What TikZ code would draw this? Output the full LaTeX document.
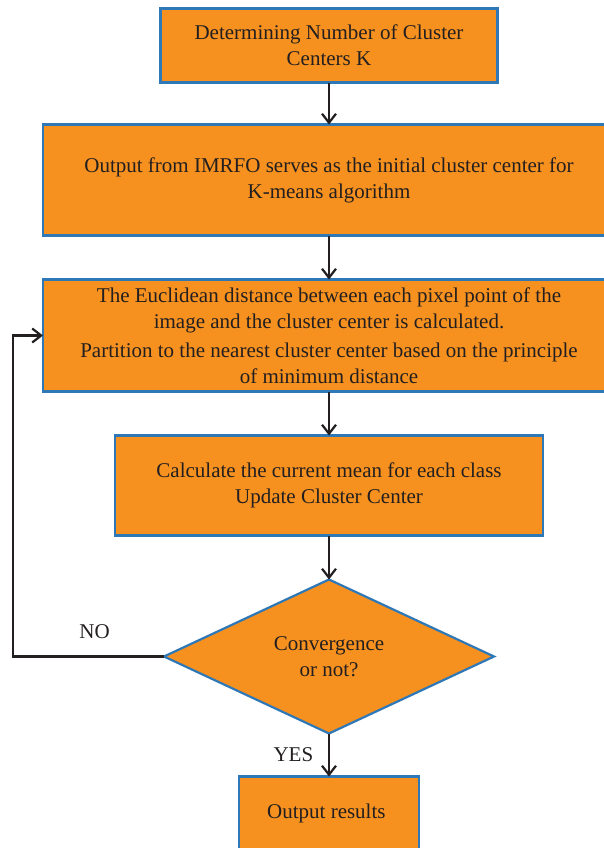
\documentclass[tikz,border=0pt]{standalone}
\usepackage{fontspec}
\setmainfont{Liberation Serif}
\usetikzlibrary{arrows.meta, positioning, shapes.geometric}

\definecolor{boxfill}{HTML}{F6911F}
\definecolor{boxedge}{HTML}{2E78B8}
\definecolor{inkline}{HTML}{231F20}

\begin{document}
\begin{tikzpicture}[
    every node/.style={font=\fontsize{10.5pt}{13pt}\selectfont, text=inkline},
    box/.style={
        rectangle,
        draw=boxedge,
        fill=boxfill,
        line width=1.2pt,
        align=center,
        outer sep=0pt,
        inner sep=4pt
    },
    stepbox/.style={
        box,
        minimum width=286pt,
        minimum height=55.5pt
    },
    decision/.style={
        diamond,
        aspect=2,
        draw=boxedge,
        fill=boxfill,
        line width=1.1pt,
        align=center,
        outer sep=0pt,
        inner sep=0pt,
        minimum width=165pt,
        minimum height=77pt
    },
    arrow/.style={
        line width=1.1pt,
        -{Straight Barb[length=4.5pt, width=7pt, line width=1.1pt]},
        draw=inkline
    }
]

\useasboundingbox (0,0) rectangle (302pt,-424pt);
\clip (0,0) rectangle (302pt,-424pt);

% Number of clusters
\node[box, minimum width=168.5pt, minimum height=37pt] (kbox) at (164.5pt,-22.75pt) {
    Determining Number of Cluster\\
    Centers K
};

% Initial centers
\node[stepbox, below=21pt of kbox] (initbox) {
    Output from IMRFO serves as the initial cluster center for\\
    K-means algorithm
};

% Distance and partition
\node[stepbox, below=22pt of initbox] (distbox) {
    The Euclidean distance between each pixel point of the\\
    image and the cluster center is calculated.\\[1.5pt]
    Partition to the nearest cluster center based on the principle\\
    of minimum distance
};

% Update centers
\node[box, minimum width=214pt, minimum height=50pt, below=22pt of distbox] (updbox) {
    Calculate the current mean for each class\\
    Update Cluster Center
};

% Convergence test
\node[decision, below=22pt of updbox] (conv) {
    Convergence\\
    or not?
};

% Result
\node[box, minimum width=90pt, minimum height=37pt, below=21.5pt of conv] (outbox) {
    Output results
};

% Main flow arrows
\draw[arrow] (kbox) -- (initbox);
\draw[arrow] (initbox) -- (distbox);
\draw[arrow] (distbox) -- (updbox);
\draw[arrow] (updbox) -- (conv);
\draw[arrow] (conv) -- node[midway, left=4pt] {YES} (outbox);

% Loop back
\coordinate (turn) at (6.5pt,0);
\draw[arrow] (conv.west) -- node[above=5pt, pos=0.46] {NO} (conv.west -| turn)
    |- (distbox.west);

\end{tikzpicture}
\end{document}
